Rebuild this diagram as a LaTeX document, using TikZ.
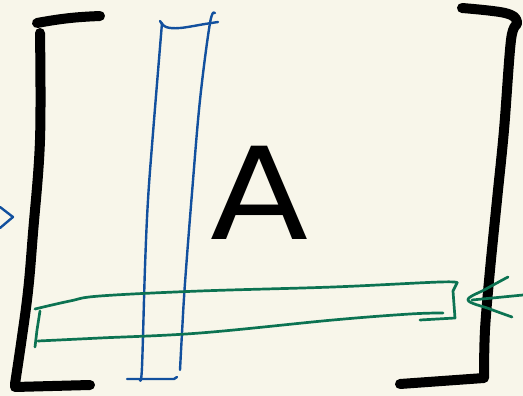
\documentclass[tikz,border=0pt]{standalone}
\usepackage{fontspec}
\setmainfont{DejaVu Sans}
\definecolor{paper}{HTML}{F8F6EA}
\definecolor{penblue}{HTML}{12509E}
\definecolor{pengreen}{HTML}{0C7352}
\begin{document}
\begin{tikzpicture}[x=1pt,y=-1pt,
  br/.style={line width=10pt,line cap=round,line join=round,black},
  bl/.style={line width=2.4pt,line cap=round,line join=round,penblue},
  gr/.style={line width=2.7pt,line cap=round,line join=round,pengreen}]
\fill[paper] (0,0) rectangle (523,396);
\useasboundingbox (0,0) rectangle (523,396);
% left bracket
\draw[br] (37,23) to[bend left=4] (100,16);
\draw[br] plot[smooth,tension=0.6] coordinates {(40,33) (40,140) (33,233) (27,300) (15,384)} -- (15,387) -- (90,385);
% right bracket
\draw[br] plot[smooth,tension=0.6] coordinates {(462,8) (505,13) (517,22) (511,40) (504,130) (497,200) (490,270) (485,330) (484,378)} -- (400,384);
% blue column
\draw[bl] plot[smooth,tension=0.6] coordinates {(162,23) (153,133) (148,200) (145,267) (142,367) (140,380)};
\draw[bl] plot[smooth,tension=0.6] coordinates {(215,13) (210,23) (200,100) (192,193) (185,283) (182,333) (180,370)};
\draw[bl] plot[smooth,tension=0.6] coordinates {(160,21) (166,27) (180,28) (205,24) (218,22)};
\draw[bl] (127,379) -- (174,379) -- (177,377);
% green row
\draw[gr] plot[smooth,tension=0.6] coordinates {(35,309) (70,301) (100,296) (200,291) (333,287) (440,282) (457,283)} -- (453,291) -- (455,318) -- (420,320);
\draw[gr] plot[smooth,tension=0.6] coordinates {(443,313) (410,314) (333,320) (200,333) (100,338) (38,341)};
\draw[gr] (40,311) -- (37,330) -- (35,347);
% green arrow
\draw[gr] (523,295) -- (472,300);
\draw[gr] plot[smooth,tension=0.6] coordinates {(508,277) (486,289) (468,300) (490,309) (512,317)};
% blue chevron
\draw[bl] (0,207) -- (13,217) -- (0,228);
% label
\node[anchor=base,inner sep=0pt,xscale=1.12,font=\fontsize{128}{128}\selectfont] (A) at (260,240) {A};
\end{tikzpicture}
\end{document}
